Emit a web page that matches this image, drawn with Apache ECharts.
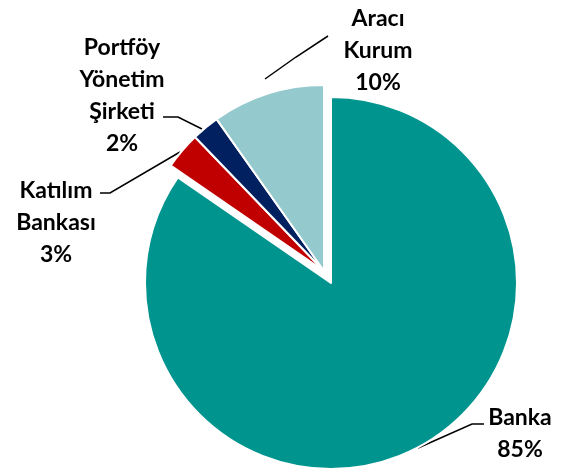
<!DOCTYPE html>
<html>
<head>
<meta charset="utf-8">
<script src="https://cdn.jsdelivr.net/npm/echarts@6/dist/echarts.min.js"></script>
<style>
  html, body { margin: 0; padding: 0; background: #fff; }
  #box { width: 562px; height: 476px; }
</style>
</head>
<body>
<div id="box"></div>
<script>
var chart = echarts.init(document.getElementById('box'));

// pie slices, clockwise from 12 o'clock
var names = ['Banka', 'Katılım\nBankası', 'Portföy\nYönetim\nŞirketi', 'Aracı\nKurum'];
var shares = [84.6, 3.2, 2.4, 9.8];
var colors = ['#00948F', '#C00000', '#002060', '#94C9CD'];

// where each label sits (centre of text block) and its leader line
var labelPos = [
  { x: 520, y: 434, line: [[418, 448], [472, 424], [484, 424]] },
  { x: 56, y: 223, line: [[180, 152], [110, 193], [100, 193]] },
  { x: 122, y: 96, line: [[202, 129], [178, 117], [163, 117]] },
  { x: 378, y: 51, line: [[265, 79], [296, 57], [328, 36]] }
];

// Banka is pulled out of the pie, so it gets its own series with a moved centre
function makeData(explodedOnly) {
  var out = [];
  for (var i = 0; i < names.length; i++) {
    var visible = explodedOnly ? i === 0 : i !== 0;
    out.push({
      name: names[i],
      value: shares[i],
      itemStyle: visible ? { color: colors[i] } : { color: 'rgba(0,0,0,0)', borderWidth: 0 },
      label: { show: visible },
      labelLine: { show: visible }
    });
  }
  return out;
}

var labelStyle = {
  show: true,
  position: 'outside',
  formatter: '{b}\n{d}%',
  fontFamily: 'Lato',
  fontWeight: 'bold',
  fontSize: 23,
  lineHeight: 32,
  color: '#000',
  align: 'center'
};

function placeLabel(params) {
  var p = labelPos[params.dataIndex];
  return {
    x: p.x,
    y: p.y,
    align: 'center',
    verticalAlign: 'middle',
    labelLinePoints: p.line
  };
}

function pieSeries(center, explodedOnly) {
  return {
    type: 'pie',
    center: center,
    radius: 186,
    startAngle: 90,
    clockwise: true,
    percentPrecision: 0,
    avoidLabelOverlap: false,
    emphasis: { disabled: true },
    itemStyle: { borderColor: '#fff', borderWidth: 2 },
    label: labelStyle,
    labelLine: { show: true, lineStyle: { color: '#000', width: 1.5 } },
    labelLayout: placeLabel,
    data: makeData(explodedOnly)
  };
}

var option = {
  animation: false,
  series: [
    pieSeries([324, 271], false),
    pieSeries([331, 283], true)
  ]
};

chart.setOption(option);
</script>
</body>
</html>
